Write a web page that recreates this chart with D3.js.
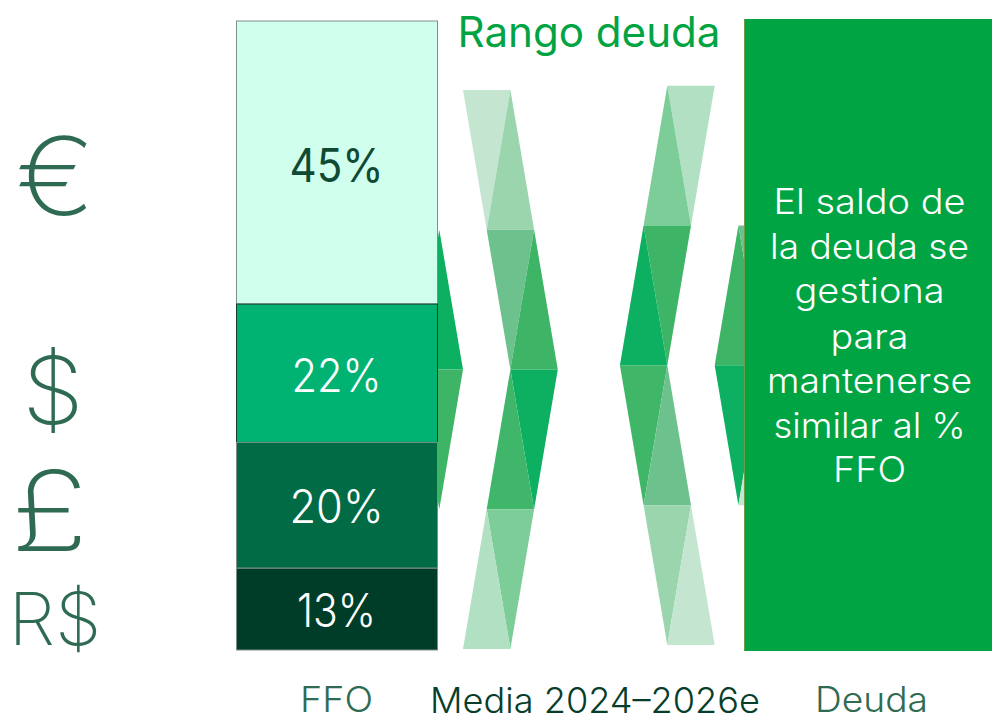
<!DOCTYPE html>
<html><head><meta charset="utf-8"><style>html,body{margin:0;padding:0;background:#fff;overflow:hidden}svg{display:block}text{font-family:Inter,sans-serif;text-anchor:middle}</style>
<script src="https://cdn.jsdelivr.net/npm/d3@7"></script></head><body><div id="c"></div>
<script>
const currencies = ["€","$","£","R$"];
const ffoValues = [45,22,20,13];
const ffoLabels = ["45%","22%","20%","13%"];
const ffoColors = ["#D1FFEE","#00B373","#006B45","#003D29"];
const ffoTextColors = ["#0F4A35","#ffffff","#ffffff","#ffffff"];
const ribbonBands = [25,25,25,25];
const leftDown = ["#C4E6D0","#6DC18D","#0CB060","#7CCD98"];
const leftUp = ["#9BD5AE","#3EB566","#3FB669","#B2E0C3"];
const rightDown = ["#B2E0C3","#3EB566","#40B669","#9BD5AE"];
const rightUp = ["#7CCD98","#0CB060","#6DC18D","#C4E6D0"];
const axisLabels = ["FFO","Media 2024–2026e","Deuda"];
const title = "Rango deuda";
const noteLines = ["El saldo de","la deuda se","gestiona","para","mantenerse","similar al %","FFO"];

const svg = d3.select("#c").append("svg").attr("width",992).attr("height",714);
const yBar = d3.scaleLinear().domain([0,100]).range([21,650]);
const yL = d3.scaleLinear().domain([0,100]).range([90,649]);
const yR = d3.scaleLinear().domain([0,100]).range([85.7,645]);
const u = 23.7;
const tri = svg.append("g");
const poly = (pts,fill)=>tri.append("path").attr("d",d3.line()(pts)+"Z").attr("fill",fill);
const down = (c,y0,y1,fill)=>poly([[c-u,y0],[c+u,y0],[c,y1]],fill);
const up = (c,y0,y1,fill)=>poly([[c,y0],[c-u,y1],[c+u,y1]],fill);
const downIdx = [0,1,2,1], upIdx = [1,2,1,0];
const bands = d3.cumsum(ribbonBands);
ribbonBands.forEach((b,i)=>{
  const l0=yL(bands[i]-b), l1=yL(bands[i]);
  const r0=yR(bands[i]-b), r1=yR(bands[i]);
  down(486.7+downIdx[i]*u,l0,l1,leftDown[i]);
  up(486.7+upIdx[i]*u,l0,l1,leftUp[i]);
  down(691-downIdx[i]*u,r0,r1,rightDown[i]);
  up(691-upIdx[i]*u,r0,r1,rightUp[i]);
});
// pieces of the neighbouring repeat, tucked behind the solid blocks
up(486.7-2*u,yL(25),yL(50),leftDown[2]);
down(486.7-2*u,yL(50),yL(75),leftUp[1]);
up(691+2*u,yR(25),yR(50),rightDown[1]);
down(691+2*u,yR(50),yR(75),rightUp[1]);
down(691+3*u,yR(25),yR(50),rightUp[2]);
up(691+3*u,yR(50),yR(75),rightUp[3]);

// FFO bar
let acc=0;
ffoValues.forEach((v,i)=>{
  const y0=yBar(acc), y1=yBar(acc+v); acc+=v;
  svg.append("rect").attr("x",236.5).attr("y",y0).attr("width",201).attr("height",y1-y0)
    .attr("fill",ffoColors[i]).attr("stroke",i==1?"#1a3a2c":"#7f8f88").attr("stroke-width",1);
});
// Deuda block
svg.append("rect").attr("x",744).attr("y",19).attr("width",248).attr("height",632).attr("fill","#00A443");
svg.append("line").attr("x1",744.5).attr("x2",744.5).attr("y1",19).attr("y2",651).attr("stroke","#6f9a45");

const T=(s,x,y,size,fill,len,weight)=>svg.append("text").text(s).attr("x",x).attr("y",y)
  .attr("font-size",size).attr("fill",fill).attr("font-weight",weight||300)
  .attr("textLength",len).attr("lengthAdjust","spacingAndGlyphs");

const lblY=[182,392,523,627], lblW=[94,90,94,79];
ffoLabels.forEach((s,i)=>T(s,336.5,lblY[i],46,ffoTextColors[i],lblW[i],i==0?400:350));

T(title,589,47,42,"#00A443",263,400);
T(axisLabels[0],336.5,712,35,"#2F6B52",73,300);
T(axisLabels[1],595,713,35,"#063D2B",330,350);
T(axisLabels[2],871.5,712,35,"#2F6B52",113,300);

const noteY=[214,259,303,349,393,438,482], noteW=[192,199,150,78,205,192,73];
noteLines.forEach((s,i)=>T(s,869.5,noteY[i],35,"#ffffff",noteW[i],350));

const curX=[55.5,53,49.5,55], curY=[215,424,551,645], curS=[108,93,112,73], curW=[80,62,78,93];
currencies.forEach((s,i)=>T(s,curX[i],curY[i],curS[i],"#2F6B52",curW[i],150));
</script></body></html>
